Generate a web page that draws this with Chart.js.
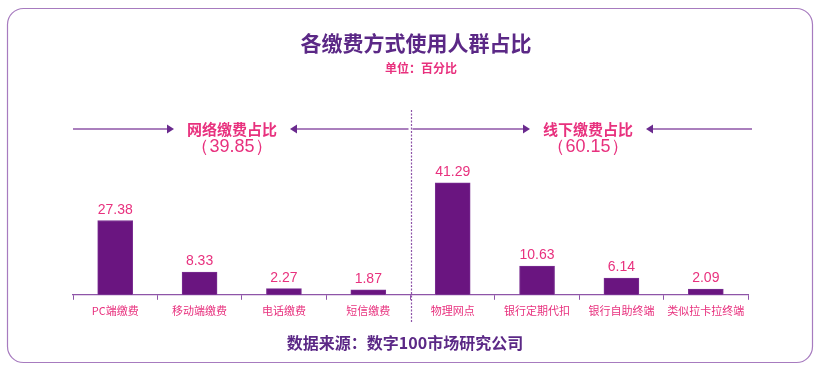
<!DOCTYPE html>
<html><head><meta charset="utf-8">
<script src="https://cdn.jsdelivr.net/npm/chart.js@4"></script>
<style>html,body{margin:0;padding:0;background:#fff}#wrap{position:relative;width:822px;height:373px}</style>
</head><body><div id="wrap"><canvas id="c" width="822" height="373"></canvas></div>
<script>
const categories = ['PC端缴费','移动端缴费','电话缴费','短信缴费','物理网点','银行定期代扣','银行自助终端','类似拉卡拉终端'];
const values = [27.38, 8.33, 2.27, 1.87, 41.29, 10.63, 6.14, 2.09];
const groupLabels = ['网络缴费占比', '线下缴费占比'];
const groupValues = ['39.85', '60.15'];
const title = '各缴费方式使用人群占比';
const subtitle = '单位：百分比';
const source = '数据来源：数字100市场研究公司';

const CJK = '"Noto Sans CJK SC", sans-serif';
const PURPLE = '#6a1580';
const PINK = '#e8317e';
const LINE = '#8e55a8';

const deco = {
  id: 'deco',
  beforeDraw(chart) {
    const ctx = chart.ctx;
    ctx.save();
    ctx.strokeStyle = '#a77bbf';
    ctx.lineWidth = 1.2;
    const x0 = 7.5, y0 = 8.5, w = 805, h = 354, r = 16;
    ctx.beginPath();
    ctx.moveTo(x0 + r, y0);
    ctx.arcTo(x0 + w, y0, x0 + w, y0 + h, r);
    ctx.arcTo(x0 + w, y0 + h, x0, y0 + h, r);
    ctx.arcTo(x0, y0 + h, x0, y0, r);
    ctx.arcTo(x0, y0, x0 + w, y0, r);
    ctx.closePath();
    ctx.stroke();
    ctx.restore();
  },
  afterDraw(chart) {
    const ctx = chart.ctx;
    const xs = chart.scales.x;
    const area = chart.chartArea;
    ctx.save();
    ctx.textAlign = 'center';
    ctx.textBaseline = 'middle';
    ctx.fillStyle = '#5b2886';
    ctx.font = 'bold 21px ' + CJK;
    ctx.fillText(title, 416, 43);
    ctx.fillStyle = PINK;
    ctx.font = 'bold 12px ' + CJK;
    ctx.fillText(subtitle, 421, 68);
    // divider on the group-boundary tick
    const mid = (xs.getPixelForValue(3) + xs.getPixelForValue(4)) / 2;
    ctx.strokeStyle = LINE;
    ctx.lineWidth = 1.2;
    ctx.setLineDash([2, 1.5]);
    ctx.beginPath();
    ctx.moveTo(Math.round(mid) + 0.5, 110);
    ctx.lineTo(Math.round(mid) + 0.5, 322);
    ctx.stroke();
    ctx.setLineDash([]);
    const groups = [[area.left, mid - 2], [mid + 2, area.right + 4]];
    const centers = [232, 588];
    groups.forEach((g, i) => {
      const cx = centers[i];
      ctx.font = 'bold 15px ' + CJK;
      const tw = ctx.measureText(groupLabels[i]).width;
      const y = 129;
      const l1 = cx - tw / 2 - 13, r1 = cx + tw / 2 + 13;
      ctx.strokeStyle = LINE;
      ctx.lineWidth = 1.3;
      ctx.beginPath();
      ctx.moveTo(g[0], y); ctx.lineTo(l1 - 6, y);
      ctx.moveTo(r1 + 6, y); ctx.lineTo(g[1], y);
      ctx.stroke();
      ctx.fillStyle = '#6a2a8e';
      ctx.beginPath();
      ctx.moveTo(l1 - 7, y - 4.5); ctx.lineTo(l1, y); ctx.lineTo(l1 - 7, y + 4.5); ctx.closePath(); ctx.fill();
      ctx.beginPath();
      ctx.moveTo(r1 + 7, y - 4.5); ctx.lineTo(r1, y); ctx.lineTo(r1 + 7, y + 4.5); ctx.closePath(); ctx.fill();
      ctx.fillStyle = PINK;
      ctx.fillText(groupLabels[i], cx, y);
      ctx.font = '18px "Liberation Sans", Arial, sans-serif';
      ctx.fillText('（' + groupValues[i] + '）', cx, 147);
    });
    const meta = chart.getDatasetMeta(0);
    ctx.fillStyle = PINK;
    ctx.font = '14px "Liberation Sans", Arial, sans-serif';
    ctx.textBaseline = 'alphabetic';
    meta.data.forEach((bar, i) => {
      ctx.fillText(values[i].toFixed(2), bar.x, bar.y - 7);
    });
    ctx.fillStyle = '#5b2886';
    ctx.font = 'bold 16px ' + CJK;
    ctx.textBaseline = 'middle';
    ctx.fillText(source, 405, 343);
    ctx.restore();
  }
};

new Chart(document.getElementById('c'), {
  type: 'bar',
  data: {
    labels: categories,
    datasets: [{
      data: values,
      backgroundColor: PURPLE,
      borderColor: '#7a2f92',
      borderWidth: 1,
      barThickness: 35
    }]
  },
  options: {
    responsive: false,
    animation: false,
    events: [],
    layout: { padding: { left: 73, right: 74, top: 132, bottom: 52 } },
    plugins: { legend: { display: false }, tooltip: { enabled: false } },
    scales: {
      y: { display: false, min: 0, max: 60 },
      x: {
        grid: { offset: true, drawOnChartArea: false, color: LINE, tickLength: 5, lineWidth: 1 },
        border: { color: LINE, width: 1.2 },
        ticks: { color: PINK, font: { family: CJK, size: 11 }, padding: 4, maxRotation: 0, autoSkip: false }
      }
    }
  },
  plugins: [deco]
});
</script></body></html>
